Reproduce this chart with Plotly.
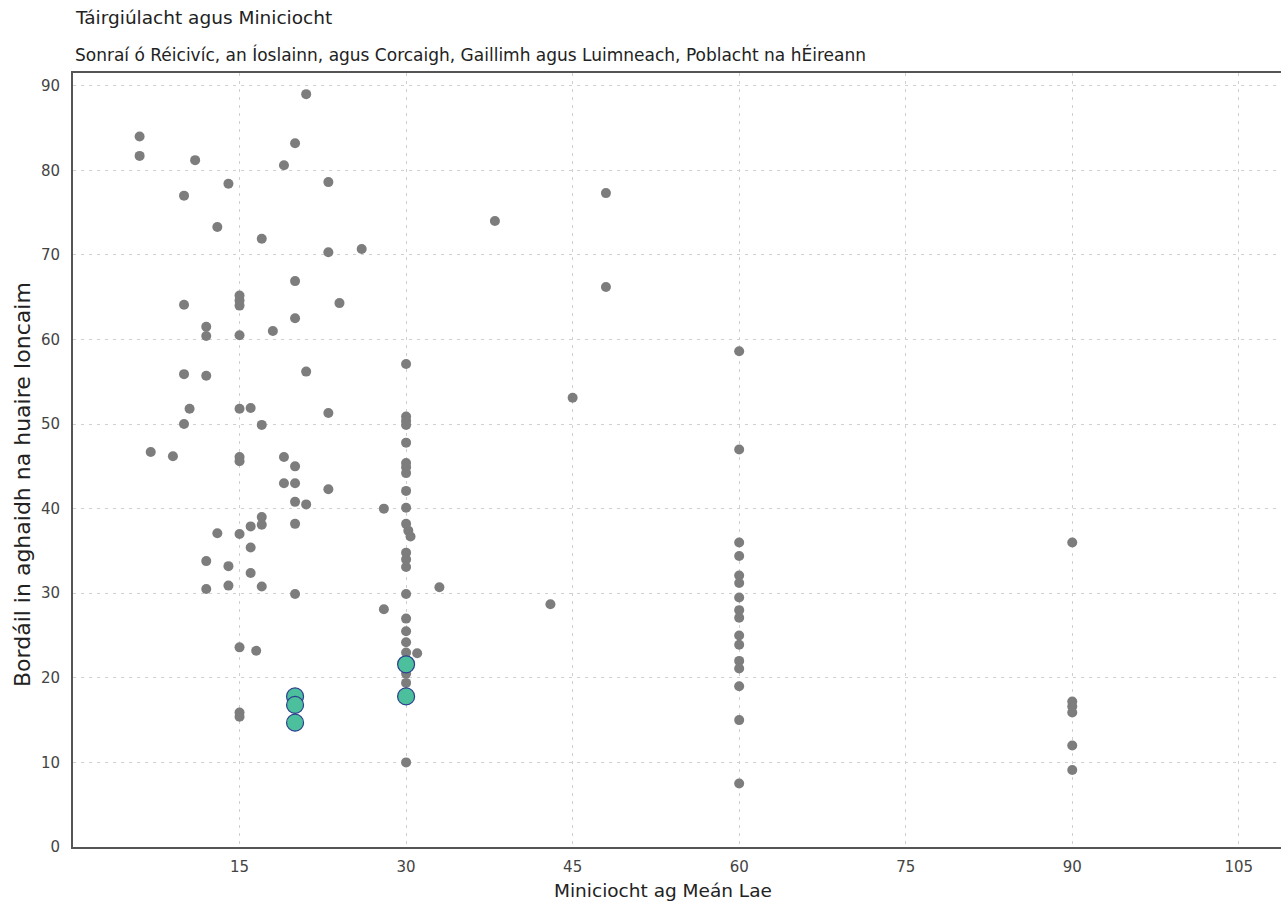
import plotly.graph_objects as go

# Grey points: minutes of frequency at midday (x) vs boardings per revenue hour (y)
grey_x = (
    [6, 6, 7, 9, 10, 10, 10, 10, 10.5, 11]
    + [12, 12, 12, 12, 12, 13, 13, 14, 14, 14]
    + [15] * 11
    + [16, 16, 16, 16, 16.5]
    + [17, 17, 17, 17, 17, 18, 19, 19, 19]
    + [20] * 8
    + [21, 21, 21, 23, 23, 23, 23, 24, 26, 28, 28]
    + [30] * 22
    + [30.2, 30.4, 31, 33, 38, 43, 45, 48, 48]
    + [60] * 16
    + [90] * 6
)
grey_y = (
    [84, 81.7, 46.7, 46.2, 77, 64.1, 55.9, 50, 51.8, 81.2]
    + [61.5, 60.4, 55.7, 33.8, 30.5, 73.3, 37.1, 78.4, 33.2, 30.9]
    + [65.2, 64.6, 64.0, 60.5, 51.8, 46.1, 45.6, 37, 23.6, 15.9, 15.4]
    + [51.9, 37.9, 35.4, 32.4, 23.2]
    + [71.9, 49.9, 39.0, 38.1, 30.8, 61, 80.6, 46.1, 43]
    + [83.2, 66.9, 62.5, 45, 43, 40.8, 38.2, 29.9]
    + [89, 56.2, 40.5, 78.6, 70.3, 51.3, 42.3, 64.3, 70.7, 40, 28.1]
    + [57.1, 50.9, 50.4, 49.9, 47.8, 45.4, 44.9, 44.2, 42.1, 40.1, 38.2,
       34.8, 34.0, 33.1, 29.9, 27, 25.5, 24.2, 23, 20.5, 19.4, 10]
    + [37.4, 36.7, 22.9, 30.7, 74, 28.7, 53.1, 77.3, 66.2]
    + [58.6, 47, 36, 34.4, 32.1, 31.2, 29.5, 28, 27.1, 25, 23.9, 22, 21.1, 19, 15, 7.5]
    + [36, 17.2, 16.6, 15.9, 12, 9.1]
)

# Highlighted (green) points
hl_x = [20, 20, 20, 30, 30]
hl_y = [17.8, 16.8, 14.7, 21.6, 17.8]

x_ticks = [15, 30, 45, 60, 75, 90, 105]
y_ticks = [0, 10, 20, 30, 40, 50, 60, 70, 80, 90]

title_text = "Táirgiúlacht agus Miniciocht"
subtitle_text = "Sonraí ó Réicivíc, an Íoslainn, agus Corcaigh, Gaillimh agus Luimneach, Poblacht na hÉireann"
x_title = "Miniciocht ag Meán Lae"
y_title = "Bordáil in aghaidh na huaire Ioncaim"

FONT = "DejaVu Sans, Liberation Sans, Arial, sans-serif"

fig = go.Figure()
fig.add_trace(go.Scatter(
    x=grey_x, y=grey_y, mode="markers",
    marker=dict(color="#7d7d7d", size=10, line=dict(width=0)),
    showlegend=False, hoverinfo="x+y",
))
fig.add_trace(go.Scatter(
    x=hl_x, y=hl_y, mode="markers",
    marker=dict(color="#4cbf9c", size=17, line=dict(color="#2b3f8e", width=1.2)),
    showlegend=False, hoverinfo="x+y",
))

fig.update_layout(
    width=1281, height=902,
    margin=dict(l=73, r=0, t=73, b=55),
    paper_bgcolor="white", plot_bgcolor="white",
    font=dict(family=FONT, color="#333333"),
    annotations=[
        dict(text=title_text, xref="paper", yref="paper", x=0, y=1,
             xanchor="left", yanchor="bottom", yshift=43, showarrow=False,
             font=dict(size=18.5, color="#222222", family=FONT)),
        dict(text=subtitle_text, xref="paper", yref="paper", x=0, y=1,
             xanchor="left", yanchor="bottom", yshift=6, showarrow=False,
             font=dict(size=17, color="#222222", family=FONT)),
        dict(text=x_title, xref="paper", yref="paper", x=0.4886, y=0,
             xanchor="center", yanchor="middle", yshift=-43, showarrow=False,
             font=dict(size=18.5, color="#222222", family=FONT)),
        dict(text=y_title, xref="paper", yref="paper", x=0, y=0.4677,
             xanchor="center", yanchor="middle", xshift=-51, textangle=-90,
             showarrow=False, font=dict(size=22, color="#222222", family=FONT)),
    ],
    xaxis=dict(
        range=[0, 108.8], tickvals=x_ticks, ticktext=[str(v) for v in x_ticks],
        showgrid=True, gridcolor="#d0d0d0", griddash="3px,5px", gridwidth=1,
        zeroline=False, showline=True, linecolor="#555555", linewidth=2,
        mirror=True, ticks="", ticklabelstandoff=5,
        tickfont=dict(size=15, color="#444444"),
    ),
    yaxis=dict(
        range=[0, 91.5], tickvals=y_ticks, ticktext=[str(v) for v in y_ticks],
        showgrid=True, gridcolor="#d0d0d0", griddash="3px,5px", gridwidth=1,
        zeroline=False, showline=True, linecolor="#555555", linewidth=2,
        ticks="", ticklabelstandoff=8,
        tickfont=dict(size=15, color="#444444"),
    ),
)

fig.write_html("out.html", config={"displayModeBar": False},
               post_script="document.body.style.margin='0';")
